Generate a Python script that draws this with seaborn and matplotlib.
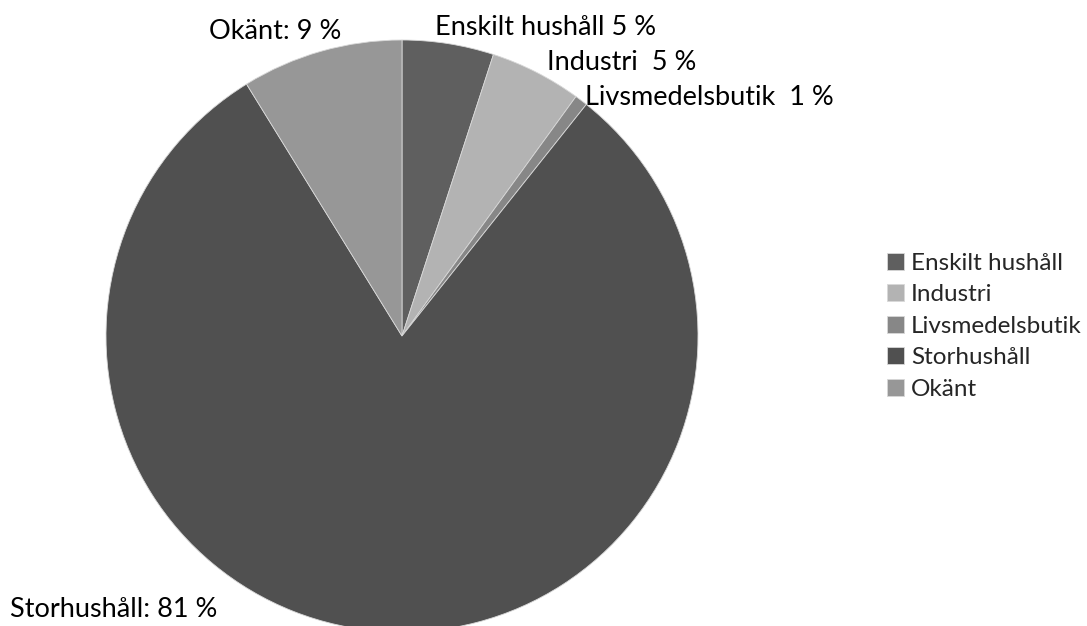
import matplotlib
matplotlib.use("Agg")
import matplotlib.pyplot as plt
import seaborn as sns

# data
categories = ["Enskilt hushåll", "Industri", "Livsmedelsbutik", "Storhushåll", "Okänt"]
shares = [5.0, 5.0, 0.7, 80.5, 8.8]
label_texts = ["Enskilt hushåll 5 %", "Industri  5 %", "Livsmedelsbutik  1 %",
               "Storhushåll: 81 %", "Okänt: 9 %"]
colors = ["#5f5f5f", "#b3b3b3", "#878787", "#505050", "#979797"]

sns.set_theme(style="white")
plt.rcParams["font.family"] = ["Lato", "DejaVu Sans"]

fig = plt.figure(figsize=(10.87, 6.26), dpi=100)
ax = fig.add_axes([106 / 1087, -6 / 626, 592 / 1087, 592 / 626])

wedges, _ = ax.pie(shares, colors=colors, startangle=90, counterclock=False,
                   radius=1, wedgeprops=dict(linewidth=0.6, edgecolor="#d8d8d8"))
ax.set_xlim(-1, 1)
ax.set_ylim(-1, 1)
ax.set_aspect("equal")
ax.axis("off")

# label positions in pixels (x center, baseline y) from the reference
label_pos = [(546, 35), (622, 70), (709, 105), (114, 617), (275, 39)]
for txt, (px, py) in zip(label_texts, label_pos):
    fig.text(px / 1087, 1 - py / 626, txt, ha="center", va="baseline",
             fontsize=19.5, color="black")

fig.legend(wedges, categories, loc="upper left",
           bbox_to_anchor=(877 / 1087, 1 - 243 / 626), frameon=False,
           fontsize=17.5, handlelength=0.7, handleheight=0.7,
           handletextpad=0.3, labelspacing=0.43, borderaxespad=0)

fig.savefig("out.png", dpi=100)
